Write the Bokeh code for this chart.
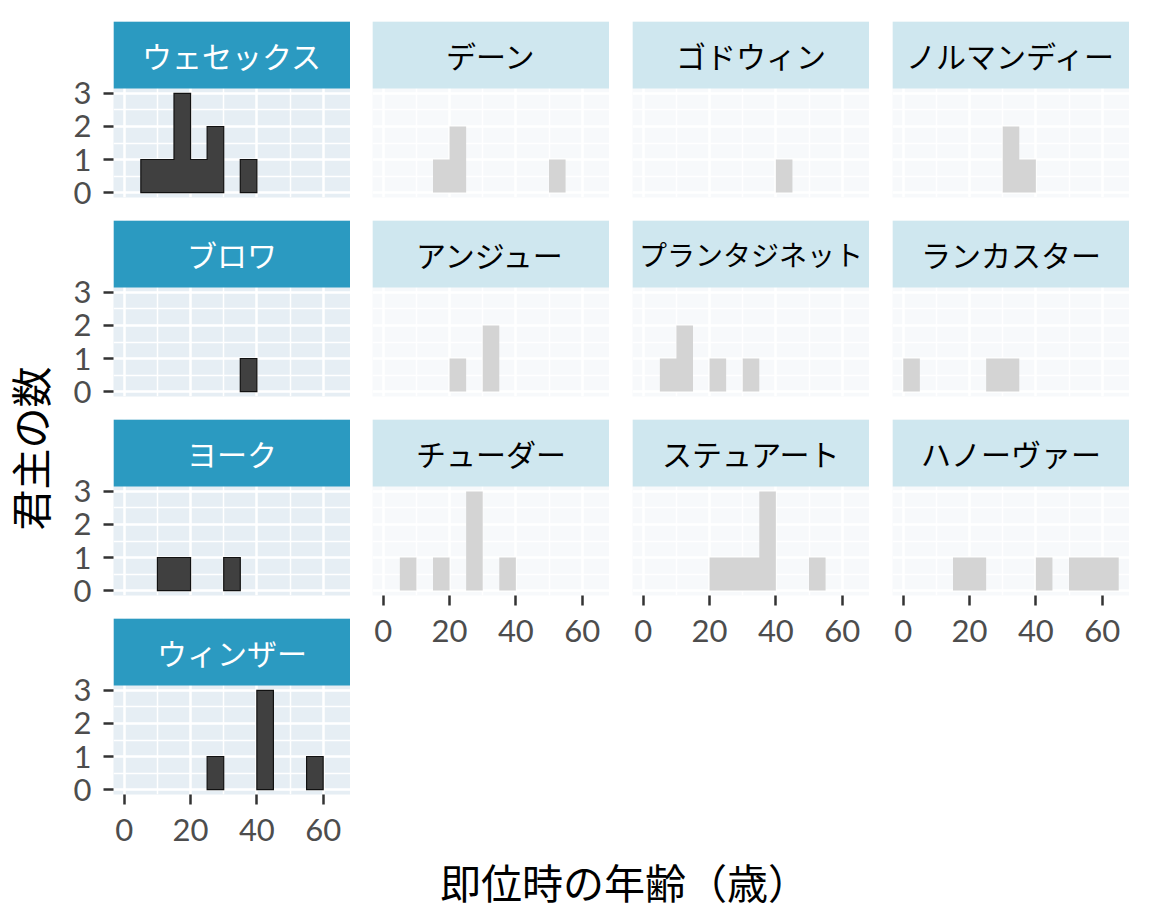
from math import pi

from bokeh.core.properties import value
from bokeh.embed import file_html
from bokeh.layouts import column, row
from bokeh.models import ColumnDataSource, FixedTicker, Range1d
from bokeh.plotting import figure
from bokeh.resources import INLINE

# age at accession, 5-year bins (0-5, 5-10, ... 60-65)
bin_edges = [0, 5, 10, 15, 20, 25, 30, 35, 40, 45, 50, 55, 60, 65]

dynasties = ["ウェセックス", "デーン", "ゴドウィン", "ノルマンディー",
             "ブロワ", "アンジュー", "プランタジネット", "ランカスター",
             "ヨーク", "チューダー", "ステュアート", "ハノーヴァー",
             "ウィンザー"]

wessex      = [0, 1, 1, 3, 1, 2, 0, 1, 0, 0, 0, 0, 0]
dane        = [0, 0, 0, 1, 2, 0, 0, 0, 0, 0, 1, 0, 0]
godwin      = [0, 0, 0, 0, 0, 0, 0, 0, 1, 0, 0, 0, 0]
normandy    = [0, 0, 0, 0, 0, 0, 2, 1, 0, 0, 0, 0, 0]
blois       = [0, 0, 0, 0, 0, 0, 0, 1, 0, 0, 0, 0, 0]
anjou       = [0, 0, 0, 0, 1, 0, 2, 0, 0, 0, 0, 0, 0]
plantagenet = [0, 1, 2, 0, 1, 0, 1, 0, 0, 0, 0, 0, 0]
lancaster   = [1, 0, 0, 0, 0, 1, 1, 0, 0, 0, 0, 0, 0]
york        = [0, 0, 1, 1, 0, 0, 1, 0, 0, 0, 0, 0, 0]
tudor       = [0, 1, 0, 1, 0, 3, 0, 1, 0, 0, 0, 0, 0]
stuart      = [0, 0, 0, 0, 1, 1, 1, 3, 0, 0, 1, 0, 0]
hanover     = [0, 0, 0, 1, 1, 0, 0, 0, 1, 0, 1, 1, 1]
windsor     = [0, 0, 0, 0, 0, 1, 0, 0, 3, 0, 0, 1, 0]

counts = [wessex, dane, godwin, normandy, blois, anjou, plantagenet,
          lancaster, york, tudor, stuart, hanover, windsor]

highlighted = ["ウェセックス", "ブロワ", "ヨーク", "ウィンザー"]

x_ticks = [0, 20, 40, 60]
x_minor = [10, 30, 50]
y_ticks = [0, 1, 2, 3]
y_minor = [0.5, 1.5, 2.5]

x_title = "即位時の年齢（歳）"
y_title = "君主の数"

# layout (px)
NCOL = 4
PW, PH, SH = 237, 109, 67
TOP0, TOP, BOT = 21, 9, 14
LEFT_PAD = 55
YT_W = 58
BOTTOM_PAD = 56
XT_H = 60

X0, X1 = -3.25, 68.25
Y0, Y1 = -0.15, 3.15
Y_STRIP = Y1 + SH * (Y1 - Y0) / PH   # strip sits on top of the panel

JP = value("Noto Sans CJK JP")

nrows = (len(dynasties) + NCOL - 1) // NCOL


def col_gap(c):
    return LEFT_PAD if c == 0 else (22 if c == 1 else 23)


def style_axis(ax, ticks):
    ax.ticker = FixedTicker(ticks=ticks)
    ax.axis_line_color = None
    ax.major_tick_line_color = "#333333"
    ax.major_tick_line_width = 2.5
    ax.major_tick_out = 10
    ax.major_tick_in = 0
    ax.minor_tick_line_color = None
    ax.major_label_text_font = "Lato"
    ax.major_label_text_font_size = "31px"
    ax.major_label_text_color = "#4D4D4D"


def hist_outline(cnt):
    # one step-shaped polygon per run of non-empty bins
    xs_all, ys_all = [], []
    xs, ys = [], []
    for k, v in enumerate(cnt):
        if v > 0:
            if not xs:
                xs, ys = [bin_edges[k]], [0]
            xs += [bin_edges[k], bin_edges[k + 1]]
            ys += [v, v]
        elif xs:
            xs.append(xs[-1])
            ys.append(0)
            xs_all.append(xs)
            ys_all.append(ys)
            xs, ys = [], []
    if xs:
        xs.append(xs[-1])
        ys.append(0)
        xs_all.append(xs)
        ys_all.append(ys)
    return xs_all, ys_all


def make_facet(i):
    name = dynasties[i]
    cnt = counts[i]
    r, c = divmod(i, NCOL)
    hi = name in highlighted
    last_in_col = (i + NCOL) >= len(dynasties)

    p = figure(frame_width=PW, frame_height=SH + PH,
               x_range=Range1d(X0, X1), y_range=Range1d(Y0, Y_STRIP),
               tools="", toolbar_location=None, output_backend="svg",
               x_axis_location="below" if last_in_col else None,
               y_axis_location="left" if c == 0 else None,
               min_border_left=col_gap(c), min_border_right=0,
               min_border_top=TOP0 if r == 0 else TOP,
               min_border_bottom=BOTTOM_PAD if last_in_col else BOT,
               background_fill_color="#E6EEF4" if hi else "#F7F9FB",
               border_fill_color="white", outline_line_color=None)

    p.xgrid.ticker = FixedTicker(ticks=x_ticks, minor_ticks=x_minor)
    p.ygrid.ticker = FixedTicker(ticks=y_ticks, minor_ticks=y_minor)
    for g in p.grid:
        g.grid_line_color = "white"
        g.grid_line_width = 2.5
        g.minor_grid_line_color = "white"
        g.minor_grid_line_width = 1.5

    if last_in_col:
        style_axis(p.xaxis[0], x_ticks)
        p.xaxis[0].major_label_standoff = 14
    if c == 0:
        style_axis(p.yaxis[0], y_ticks)
        p.yaxis[0].major_label_standoff = 12

    xs, ys = hist_outline(cnt)
    src = ColumnDataSource(dict(xs=xs, ys=ys))
    if hi:
        p.patches(xs="xs", ys="ys", source=src, fill_color="#404040",
                  line_color="#111111", line_width=1.2, line_join="miter")
    else:
        p.patches(xs="xs", ys="ys", source=src, fill_color="#D4D4D4",
                  line_color=None)

    # facet strip; long names get a slightly smaller font so they fit
    fs = min(30, (PW - 12) // len(name))
    p.quad(left=[X0], right=[X1], bottom=[Y1], top=[Y_STRIP],
           fill_color="#2B9AC1" if hi else "#CFE7EF", line_color=None)
    p.text(x=[(X0 + X1) / 2], y=[(Y1 + Y_STRIP) / 2], text=[name],
           text_font=JP, text_font_size=f"{fs}px",
           text_color="white" if hi else "black",
           text_align="center", text_baseline="middle")
    return p


cols = []
for c in range(NCOL):
    figs = [make_facet(i) for i in range(c, len(dynasties), NCOL)]
    cols.append(column(*figs, spacing=0))

grid_h = TOP0 + nrows * (SH + PH) + (nrows - 1) * (TOP + BOT) + BOTTOM_PAD
grid_w = YT_W + sum(col_gap(c) + PW for c in range(NCOL))

yt = figure(frame_width=YT_W, frame_height=grid_h,
            x_range=(0, YT_W), y_range=Range1d(grid_h, 0),
            tools="", toolbar_location=None, output_backend="svg",
            x_axis_location=None, y_axis_location=None,
            min_border_left=0, min_border_right=0, min_border_top=0, min_border_bottom=0,
            outline_line_color=None)
yt.grid.visible = False
yt.text(x=[28], y=[448], text=[y_title], angle=pi / 2, text_font=JP,
        text_font_size="41px", text_color="black",
        text_align="center", text_baseline="middle")

xt = figure(frame_width=grid_w, frame_height=XT_H,
            x_range=(0, grid_w), y_range=(0, XT_H),
            tools="", toolbar_location=None, output_backend="svg",
            x_axis_location=None, y_axis_location=None,
            min_border_left=0, min_border_right=0, min_border_top=0, min_border_bottom=0,
            outline_line_color=None)
xt.grid.visible = False
xt.text(x=[624], y=[XT_H / 2], text=[x_title], text_font=JP,
        text_font_size="41px", text_color="black",
        text_align="center", text_baseline="middle")

p = column(row(yt, *cols, spacing=0), xt, spacing=0)

open("out.html", "w").write(file_html(p, INLINE))
